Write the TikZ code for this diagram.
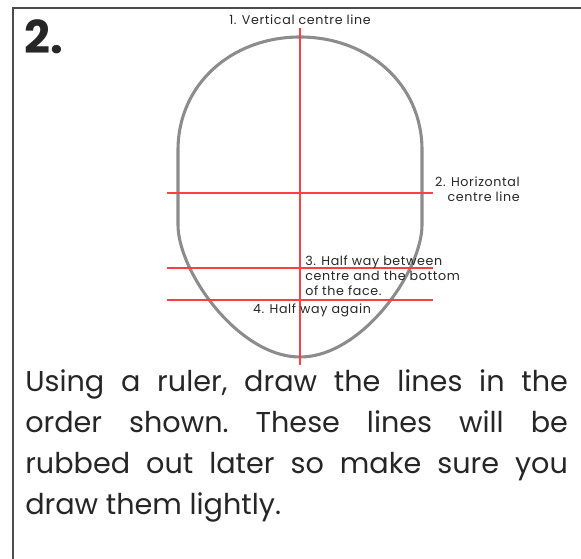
\documentclass[tikz,border=0pt]{standalone}
\usepackage{fontspec}
\setmainfont{Poppins}
\newfontfamily\notafont[LetterSpace=5]{Poppins}
\usetikzlibrary{positioning}

\begin{document}
\begin{tikzpicture}[x=0.75pt,y=0.75pt,
  guia/.style={draw=red!75!white,line width=1.1pt},
  nota/.style={font=\notafont\fontsize{9.5}{11.25}\selectfont,text=black!85,inner sep=0pt}]
  \useasboundingbox (0,0) rectangle (581,559);
  % marco
  \draw[black!70,line width=1.6pt] (13,0)--(13,551)--(581,551);
  \node[font=\fontsize{34}{40}\selectfont\bfseries,text=black!85] (num) at (44,522){2.};
  % contorno de la cara
  \draw[black!45,line width=2.3pt] (178,409)--(178,334)
     .. controls (178,288) and (238,202) .. (300,202)
     .. controls (362,202) and (422,288) .. (422,334)--(422,409)
     .. controls (422,475) and (368,522) .. (300,522)
     .. controls (232,522) and (178,475) .. cycle;
  % lineas guia
  \coordinate (vtop) at (300,531); \coordinate (vbot) at (300,194);
  \draw[guia] (vtop)--(vbot);
  \foreach \y/\n in {366/h,291/m,259/q}{
     \coordinate (\n l) at (167,\y); \coordinate (\n r) at (433,\y);
     \draw[guia] (\n l)--(\n r);}
  \node[nota] (n1) at (300,539){1. Vertical centre line};
  \node[nota,align=right,anchor=east] (n2) at (520,370){2. Horizontal\\centre line};
  \node[nota,align=left,anchor=west] (n3) at (305,283){3. Half way between\\centre and the bottom\\of the face.};
  \node[nota] (n4) at (312,249){4. Half way again};
  % instruccion
  \node[anchor=north west,inner sep=0pt,text width=407pt,align=justify,
     font=\fontsize{21.5}{30.75}\selectfont\frenchspacing,text=black!85] (txt) at (25,190)
     {Using a ruler, draw the lines in the\linebreak order shown. These lines will be\linebreak
      rubbed out later so make sure you\linebreak draw them lightly.};
\end{tikzpicture}
\end{document}
